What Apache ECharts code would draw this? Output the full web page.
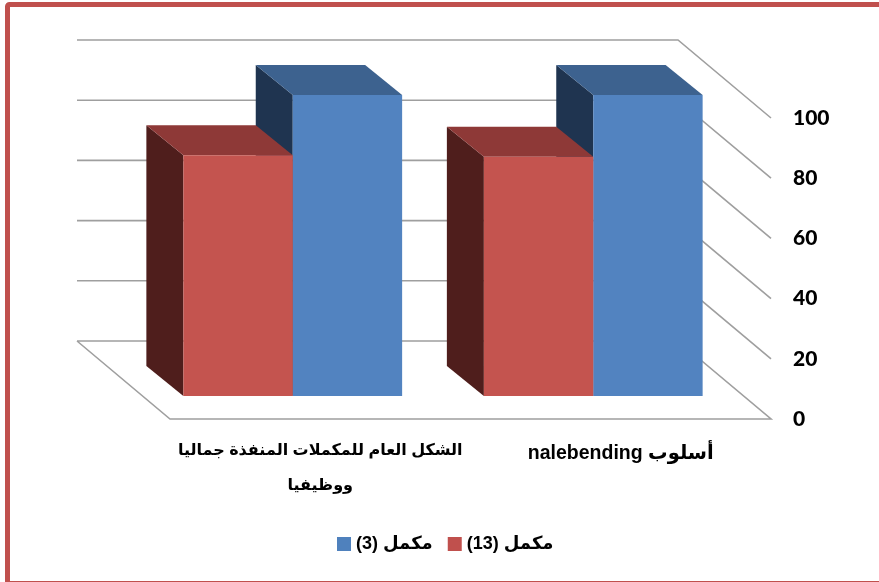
<!DOCTYPE html>
<html>
<head>
<meta charset="utf-8">
<style>html,body{margin:0;padding:0;background:#fff}#c{width:879px;height:582px}</style>
<script src="https://cdn.jsdelivr.net/npm/echarts@6/dist/echarts.min.js"></script>
</head>
<body>
<div id="c" dir="rtl"></div>
<script>
var categories = ['الشكل العام للمكملات المنفذة جماليا\nووظيفيا', 'أسلوب nalebending'];
var seriesNames = ['مكمل (3)', 'مكمل (13)'];
var values3 = [100, 100];
var values13 = [80, 79.5];
var ticks = [0, 20, 40, 60, 80, 100];

var font = '"Liberation Sans","DejaVu Sans",sans-serif';
var WALL = {dx: -93, dy: -78};
var BAR_NEAR = {dx: -27.5, dy: -23};
var BAR_DEEP = {dx: -37, dy: -30};
var BAR_FRAC = 0.364;

function gridItem(params, api) {
  var v = api.value(0);
  var a = api.coord([0, v]), size = api.size([1, 0])[0];
  var left = a[0] - size / 2, right = left + 2 * size, y = a[1];
  var pts = [[left + WALL.dx, y + WALL.dy], [right + WALL.dx, y + WALL.dy], [right, y]];
  if (v === 0) pts = pts.concat([[left, y], [left + WALL.dx, y + WALL.dy]]);
  return {type: 'polyline', silent: true, shape: {points: pts},
    style: {fill: null, stroke: '#9f9f9f', lineWidth: 1.6}};
}

function boxRenderer(side, colors) {
  return function (params, api) {
    var c = api.value(0), v = api.value(1);
    var top = api.coord([c, v]), base = api.coord([c, 0]);
    var w = api.size([1, 0])[0] * BAR_FRAC;
    var x0 = top[0] + BAR_NEAR.dx + (side < 0 ? -w : 0), x1 = x0 + w;
    var yT = top[1] + BAR_NEAR.dy, yB = base[1] + BAR_NEAR.dy;
    var d = BAR_DEEP;
    return {type: 'group', children: [
      {type: 'polygon', shape: {points: [[x0, yT], [x0 + d.dx, yT + d.dy], [x0 + d.dx, yB + d.dy], [x0, yB]]}, style: {fill: colors[2]}},
      {type: 'polygon', shape: {points: [[x0, yT], [x0 + d.dx, yT + d.dy], [x1 + d.dx, yT + d.dy], [x1, yT]]}, style: {fill: colors[1]}},
      {type: 'rect', shape: {x: x0, y: yT, width: w, height: yB - yT}, style: {fill: colors[0]}}
    ]};
  };
}

var chart = echarts.init(document.getElementById('c'), null, {renderer: 'canvas'});
chart.setOption({
  animation: false,
  backgroundColor: '#ffffff',
  graphic: [{type: 'rect', silent: true, z: 100,
    shape: {x: 7.5, y: 4.5, width: 900, height: 579, r: 2},
    style: {fill: null, stroke: '#C0504D', lineWidth: 5}}],
  grid: {left: 170, right: 108, top: 118, bottom: 163},
  legend: {
    data: seriesNames, left: 332, top: 530, icon: 'rect', itemWidth: 14, itemHeight: 14, itemGap: 15,
    textStyle: {fontFamily: font, fontWeight: 'bold', fontSize: 18, color: '#000'}
  },
  xAxis: {
    type: 'category',
    data: [
      {value: categories[0], textStyle: {fontSize: 16}},
      {value: categories[1], textStyle: {fontSize: 19.5, padding: [3, 0, 0, 0]}}
    ],
    axisLine: {show: false}, axisTick: {show: false}, splitLine: {show: false},
    axisLabel: {margin: 14, interval: 0, fontFamily: font, fontWeight: 'bold', fontSize: 16, lineHeight: 35, color: '#000'}
  },
  yAxis: {
    type: 'value', position: 'right', min: 0, max: 100, interval: 20,
    axisLine: {show: false}, axisTick: {show: false}, splitLine: {show: false},
    axisLabel: {margin: 22, fontFamily: '"Lato",' + font, fontWeight: 900, fontSize: 21, color: '#000', align: 'left', padding: [2, 0, 0, 0]}
  },
  series: [
    {type: 'custom', silent: true, renderItem: gridItem, data: ticks.map(function (t) { return [t]; }),
     encode: {y: 0}, z: 1},
    {type: 'custom', name: seriesNames[0], itemStyle: {color: '#4F81BD'},
     renderItem: boxRenderer(1, ['#5283C0', '#3D628F', '#1F3450']),
     data: values3.map(function (v, i) { return [i, v]; }), encode: {x: 0, y: 1}, z: 2},
    {type: 'custom', name: seriesNames[1], itemStyle: {color: '#C0504D'},
     renderItem: boxRenderer(-1, ['#C4544F', '#8E3937', '#4F1E1C']),
     data: values13.map(function (v, i) { return [i, v]; }), encode: {x: 0, y: 1}, z: 3}
  ]
});
</script>
</body>
</html>
